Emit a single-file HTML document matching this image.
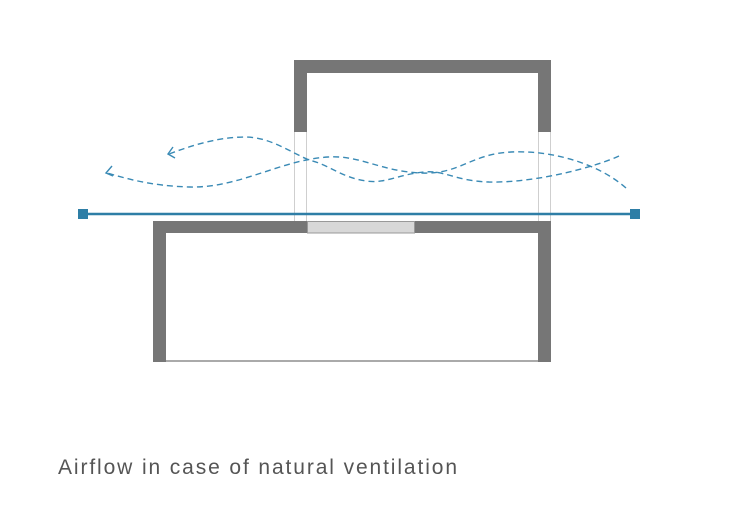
<!DOCTYPE html>
<html><head><meta charset="utf-8"><style>html,body{margin:0;padding:0;background:#fff}svg{display:block}</style></head>
<body>
<svg width="730" height="519" viewBox="0 0 730 519" xmlns="http://www.w3.org/2000/svg">
<path d="M294,60 H551 V132 H538 V73 H307 V132 H294 Z" fill="#767676"/>
<line x1="294.5" y1="132" x2="294.5" y2="221" stroke="#cfcfcf" stroke-width="1"/>
<line x1="306.5" y1="132" x2="306.5" y2="221" stroke="#cfcfcf" stroke-width="1"/>
<line x1="538.5" y1="132" x2="538.5" y2="221" stroke="#cfcfcf" stroke-width="1"/>
<line x1="550.5" y1="132" x2="550.5" y2="221" stroke="#cfcfcf" stroke-width="1"/>
<path d="M153,221 H551 V362 H538 V233 H166 V362 H153 Z" fill="#767676"/>
<line x1="166" y1="361" x2="538" y2="361" stroke="#777" stroke-width="1.2"/>
<rect x="307.5" y="221.5" width="107" height="11.5" fill="#d8d8d8" stroke="#999" stroke-width="1"/>
<line x1="83" y1="214" x2="635" y2="214" stroke="#2e7ea6" stroke-width="2.5"/>
<rect x="78" y="209" width="10" height="10" fill="#2e7ea6"/>
<rect x="630" y="209" width="10" height="10" fill="#2e7ea6"/>
<g fill="none" stroke="#3a8ab5" stroke-width="1.4" stroke-dasharray="6,4">
<path d="M626,188 C600,165 555,150 511,152 C470,154 460,175 420,173 C380,171 360,155 328,157 C280,160 240,188 190,187 C150,186 125,178 107,173"/>
<path d="M619,156 C600,165 540,183 489,182 C455,181 445,170 424,172 C400,174 385,184 366,181 C340,177 330,165 309,160 C290,152 270,137 245,137 C215,137 185,148 169,154"/>
</g>
<g fill="none" stroke="#3a8ab5" stroke-width="1.4">
<path d="M112,166 L106,173 L113,176"/>
<path d="M173,147 L168,154 L175,158"/>
</g>
<text x="58" y="474" font-family="Liberation Sans, sans-serif" font-size="21" fill="#555" textLength="399" lengthAdjust="spacing">Airflow in case of natural ventilation</text>
</svg>
</body></html>
